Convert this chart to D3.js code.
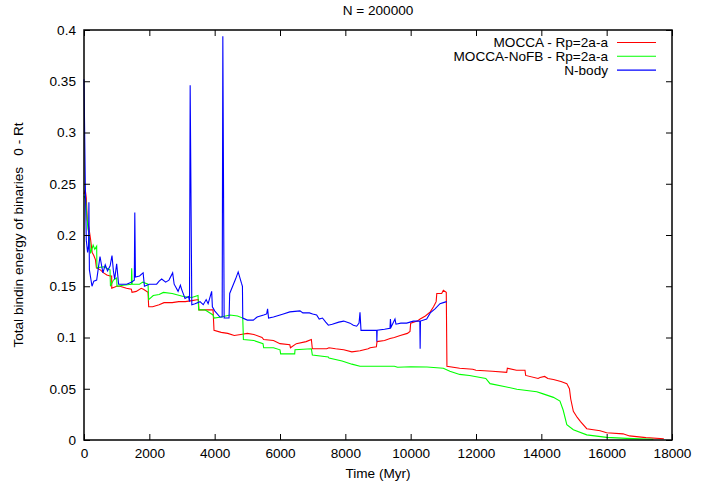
<!DOCTYPE html>
<html>
<head>
<meta charset="utf-8">
<script src="https://cdn.jsdelivr.net/npm/d3@7"></script>
<style>
  body { margin: 0; background: #fff; }
  svg text { font-family: "Liberation Sans", Arial, sans-serif; font-size: 13.6px; fill: #000; }
</style>
</head>
<body>
<svg id="chart" width="716" height="487"></svg>
<script>
// series: [time (Myr), total binding energy]
const mocca = [
  [0, 0.240], [40, 0.244], [70, 0.236], [100, 0.215], [150, 0.207], [200, 0.196], [250, 0.183],
  [300, 0.180], [350, 0.176], [380, 0.168], [500, 0.166], [600, 0.163], [700, 0.161], [800, 0.160],
  [847, 0.160], [850, 0.148], [1000, 0.150], [1100, 0.150], [1300, 0.148], [1450, 0.147], [1470, 0.144],
  [1600, 0.145], [1750, 0.148], [1820, 0.147], [1960, 0.144], [1980, 0.130], [2100, 0.130], [2300, 0.132],
  [2450, 0.134], [2700, 0.134], [2900, 0.135], [3100, 0.135], [3300, 0.136], [3500, 0.137], [3520, 0.127],
  [3700, 0.127], [3950, 0.127], [3980, 0.107], [4200, 0.105], [4400, 0.104], [4600, 0.102], [4800, 0.103],
  [5000, 0.104], [5200, 0.103], [5450, 0.100], [5500, 0.098], [5800, 0.097], [6000, 0.094], [6300, 0.093],
  [6320, 0.090], [6500, 0.094], [6800, 0.096], [6960, 0.098], [6990, 0.089], [7200, 0.089], [7430, 0.089],
  [7500, 0.090], [7700, 0.089], [7950, 0.088], [8200, 0.086], [8450, 0.087], [8700, 0.089], [8760, 0.090],
  [8950, 0.091], [8970, 0.096], [9200, 0.097], [9370, 0.099], [9500, 0.100], [9680, 0.102], [9900, 0.104],
  [9980, 0.106], [10000, 0.114], [10200, 0.116], [10290, 0.118], [10450, 0.121], [10600, 0.125],
  [10700, 0.130], [10780, 0.135], [10800, 0.143], [10950, 0.143], [11000, 0.146], [11090, 0.144],
  [11110, 0.072], [11500, 0.070], [11900, 0.069], [12000, 0.068], [12500, 0.067], [12940, 0.066],
  [12960, 0.070], [13240, 0.068], [13500, 0.068], [13520, 0.063], [13900, 0.060], [13960, 0.061],
  [14100, 0.062], [14200, 0.060], [14370, 0.059], [14600, 0.057], [14780, 0.055], [14860, 0.050],
  [14900, 0.040], [14980, 0.028], [15100, 0.022], [15200, 0.018], [15390, 0.011], [15800, 0.009],
  [16000, 0.007], [16500, 0.006], [16700, 0.004], [17200, 0.0023], [17750, 0.0012]
];

const moccaNoFB = [
  [0, 0.238], [50, 0.235], [80, 0.222], [120, 0.206], [160, 0.200], [200, 0.182], [280, 0.190],
  [330, 0.186], [388, 0.189], [395, 0.168], [600, 0.169], [796, 0.166], [810, 0.150], [900, 0.156],
  [1000, 0.158], [1010, 0.150], [1200, 0.151], [1450, 0.152], [1460, 0.1675], [1475, 0.152], [1700, 0.152],
  [1800, 0.154], [1960, 0.152], [1980, 0.137], [2120, 0.141], [2300, 0.142], [2430, 0.144], [2700, 0.143],
  [3040, 0.140], [3300, 0.139], [3490, 0.141], [3510, 0.127], [3700, 0.127], [3950, 0.122], [3980, 0.119],
  [4200, 0.120], [4470, 0.122], [4700, 0.121], [4860, 0.119], [4880, 0.098], [5200, 0.097], [5480, 0.094],
  [5500, 0.090], [5800, 0.090], [6000, 0.088], [6020, 0.084], [6450, 0.084], [6460, 0.088], [6960, 0.089],
  [6990, 0.083], [7480, 0.081], [7500, 0.080], [7900, 0.077], [8200, 0.074], [8450, 0.072], [9000, 0.072],
  [9500, 0.072], [9600, 0.071], [10000, 0.0715], [10500, 0.0712], [11000, 0.070], [11200, 0.067],
  [11500, 0.064], [11800, 0.063], [12300, 0.060], [12430, 0.055], [12900, 0.052], [13250, 0.0495],
  [13860, 0.047], [14010, 0.0455], [14370, 0.0416], [14570, 0.038], [14670, 0.029], [14780, 0.015],
  [14980, 0.010], [15390, 0.005], [16000, 0.0026], [16610, 0.0016], [17430, 0.0007]
];

const nbody = [
  [0, 0.352], [40, 0.25], [70, 0.195], [110, 0.183], [140, 0.19], [150, 0.232], [165, 0.166], [245, 0.150],
  [300, 0.155], [388, 0.156], [440, 0.168], [490, 0.179], [540, 0.170], [580, 0.163], [650, 0.171],
  [720, 0.165], [800, 0.17], [857, 0.180], [900, 0.165], [939, 0.157], [1000, 0.172], [1060, 0.152],
  [1200, 0.152], [1306, 0.152], [1450, 0.154], [1540, 0.156], [1555, 0.222], [1575, 0.159], [1700, 0.160],
  [1810, 0.163], [1850, 0.150], [2000, 0.152], [2224, 0.152], [2300, 0.155], [2378, 0.157], [2500, 0.154],
  [2600, 0.156], [2714, 0.163], [2760, 0.152], [2880, 0.145], [2950, 0.151], [3000, 0.146], [3092, 0.138],
  [3200, 0.140], [3230, 0.135], [3250, 0.346], [3300, 0.132], [3400, 0.133], [3551, 0.135], [3650, 0.132],
  [3740, 0.137], [3800, 0.133], [3908, 0.145], [3930, 0.130], [4000, 0.126], [4163, 0.120], [4230, 0.120],
  [4250, 0.394], [4290, 0.119], [4440, 0.119], [4460, 0.143], [4550, 0.150], [4640, 0.157], [4720, 0.164],
  [4820, 0.153], [4850, 0.150], [4860, 0.119], [5000, 0.117], [5183, 0.117], [5300, 0.120], [5500, 0.122],
  [5592, 0.123], [5620, 0.128], [5650, 0.119], [5800, 0.120], [6102, 0.123], [6300, 0.125], [6612, 0.126],
  [6700, 0.124], [6900, 0.124], [7000, 0.123], [7122, 0.122], [7200, 0.118], [7300, 0.119], [7400, 0.115],
  [7480, 0.112], [7600, 0.113], [7800, 0.115], [7950, 0.116], [8143, 0.114], [8245, 0.112], [8347, 0.111],
  [8420, 0.114], [8449, 0.1246], [8480, 0.107], [8700, 0.107], [8959, 0.107], [8965, 0.096], [8975, 0.107],
  [9200, 0.108], [9367, 0.109], [9380, 0.118], [9400, 0.110], [9520, 0.118], [9550, 0.113], [9700, 0.114],
  [9878, 0.114], [10082, 0.116], [10280, 0.116], [10290, 0.089], [10300, 0.116], [10490, 0.118],
  [10600, 0.124], [10745, 0.128], [10898, 0.133], [11000, 0.134], [11102, 0.135]
];

const seriesNames = ['MOCCA - Rp=2a-a', 'MOCCA-NoFB - Rp=2a-a', 'N-body'];
const seriesColors = ['#ff0000', '#00ff00', '#0000ff'];
const xTicks = [0, 2000, 4000, 6000, 8000, 10000, 12000, 14000, 16000, 18000];
const yTicks = [0, 0.05, 0.1, 0.15, 0.2, 0.25, 0.3, 0.35, 0.4];

const title = 'N = 200000';
const xLabel = 'Time (Myr)';
const yLabel = 'Total bindin energy of binaries   0 - Rt';

const svg = d3.select('#chart');
const plotLeft = 84, plotRight = 672, plotTop = 30, plotBottom = 440;
const tickLen = 6;

const x = d3.scaleLinear().domain([0, 18000]).range([plotLeft, plotRight]);
const y = d3.scaleLinear().domain([0, 0.4]).range([plotBottom, plotTop]);

// data lines (red, green, then blue on top)
const line = d3.line().x((d) => x(d[0])).y((d) => y(d[1]));
[mocca, moccaNoFB, nbody].forEach((data, i) => {
  svg.append('path')
    .datum(data)
    .attr('d', line)
    .attr('fill', 'none')
    .attr('stroke', seriesColors[i])
    .attr('stroke-width', 1.1)
    .attr('stroke-linejoin', 'miter');
});

// gnuplot-like border with inward ticks on all sides
const fmtY = (d) => (d === 0 ? '0' : String(d));
const bottomAxis = d3.axisBottom(x).tickValues(xTicks).tickSizeInner(-tickLen).tickSizeOuter(0)
  .tickPadding(8).tickFormat(d3.format('d'));
const topAxis = d3.axisTop(x).tickValues(xTicks).tickSizeInner(-tickLen).tickSizeOuter(0).tickFormat('');
const leftAxis = d3.axisLeft(y).tickValues(yTicks).tickSizeInner(-tickLen).tickSizeOuter(0)
  .tickPadding(8).tickFormat(fmtY);
const rightAxis = d3.axisRight(y).tickValues(yTicks).tickSizeInner(-tickLen).tickSizeOuter(0).tickFormat('');

function styleAxis(g) {
  g.select('.domain').remove();
  g.selectAll('line').attr('stroke', '#000').attr('stroke-width', 1);
  g.selectAll('text').attr('font-family', null).attr('font-size', null);
}
svg.append('g').attr('transform', `translate(0,${plotBottom})`).call(bottomAxis).call(styleAxis);
svg.append('g').attr('transform', `translate(0,${plotTop})`).call(topAxis).call(styleAxis);
svg.append('g').attr('transform', `translate(${plotLeft},0)`).call(leftAxis).call(styleAxis);
svg.append('g').attr('transform', `translate(${plotRight},0)`).call(rightAxis).call(styleAxis);

svg.append('rect')
  .attr('x', plotLeft).attr('y', plotTop)
  .attr('width', plotRight - plotLeft).attr('height', plotBottom - plotTop)
  .attr('fill', 'none')
  .attr('stroke', '#000')
  .attr('stroke-width', 1.5);

// titles
svg.append('text')
  .attr('x', (plotLeft + plotRight) / 2).attr('y', 15)
  .attr('text-anchor', 'middle')
  .text(title);
svg.append('text')
  .attr('x', (plotLeft + plotRight) / 2).attr('y', 478)
  .attr('text-anchor', 'middle')
  .text(xLabel);
svg.append('text')
  .attr('transform', `translate(23,${(plotTop + plotBottom) / 2}) rotate(-90)`)
  .attr('text-anchor', 'middle')
  .style('white-space', 'pre')
  .text(yLabel);

// legend
const legend = svg.append('g');
seriesNames.forEach((name, i) => {
  const ly = 42.5 + i * 13.8;
  legend.append('text')
    .attr('x', 608).attr('y', ly + 4.8)
    .attr('text-anchor', 'end')
    .text(name);
  legend.append('line')
    .attr('x1', 617).attr('x2', 656)
    .attr('y1', ly).attr('y2', ly)
    .attr('stroke', seriesColors[i])
    .attr('stroke-width', 1.1);
});
</script>
</body>
</html>
